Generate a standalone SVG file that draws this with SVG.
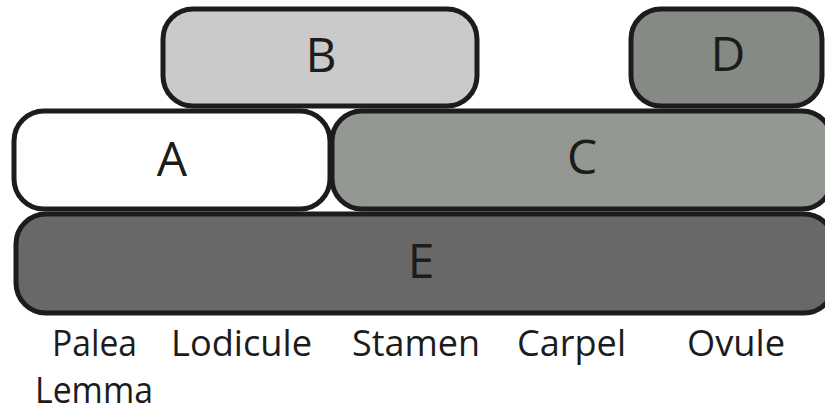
<svg xmlns="http://www.w3.org/2000/svg" width="825" height="408" viewBox="0 0 825 408">
  <style>
    .box { stroke: #1c1c1c; stroke-width: 5; }
    .lbl { font-family: "Open Sans", "Noto Sans", sans-serif; font-size: 48px; fill: #1c1c1c; text-anchor: middle; }
    .organ { font-family: "Open Sans", "Noto Sans", sans-serif; font-size: 37px; fill: #1c1c1c; }
  </style>
  <rect width="825" height="408" fill="#ffffff"/>
  <g id="E">
    <rect class="box" x="16" y="214" width="818" height="99" rx="30" fill="#686868"/>
    <text class="lbl" x="421" y="278">E</text>
  </g>
  <g id="A">
    <rect class="box" x="14" y="111" width="316" height="98" rx="30" fill="#ffffff"/>
    <text class="lbl" x="172" y="176">A</text>
  </g>
  <g id="C">
    <rect class="box" x="332" y="111" width="500" height="98" rx="30" fill="#949893"/>
    <text class="lbl" x="582" y="174">C</text>
  </g>
  <g id="B">
    <rect class="box" x="163" y="9" width="314" height="97" rx="30" fill="#cacaca"/>
    <text class="lbl" x="321" y="72">B</text>
  </g>
  <g id="D">
    <rect class="box" x="631" y="9" width="191" height="97" rx="30" fill="#858a84"/>
    <text class="lbl" x="728" y="71">D</text>
  </g>
  <g id="organs">
    <text class="organ" x="52" y="356" textLength="85" lengthAdjust="spacingAndGlyphs">Palea</text>
    <text class="organ" x="171" y="356" textLength="141" lengthAdjust="spacingAndGlyphs">Lodicule</text>
    <text class="organ" x="352" y="356" textLength="128" lengthAdjust="spacingAndGlyphs">Stamen</text>
    <text class="organ" x="517" y="356" textLength="109" lengthAdjust="spacingAndGlyphs">Carpel</text>
    <text class="organ" x="687" y="356" textLength="98" lengthAdjust="spacingAndGlyphs">Ovule</text>
    <text class="organ" x="35" y="403" textLength="118" lengthAdjust="spacingAndGlyphs">Lemma</text>
  </g>
</svg>
